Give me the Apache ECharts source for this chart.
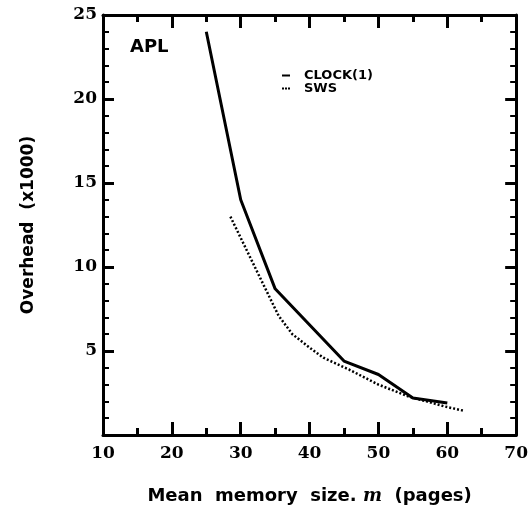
<!DOCTYPE html>
<html>
<head>
<meta charset="utf-8">
<script src="https://cdn.jsdelivr.net/npm/echarts@6/dist/echarts.min.js"></script>
<style>
  html, body { margin: 0; padding: 0; background: #fff; }
  #chart { width: 531px; height: 510px; }
</style>
</head>
<body>
<div id="chart"></div>
<script>
  // values
  var clockM = [25, 30, 35, 45, 50, 55, 60]
  var clockOverhead = [24.0, 14.0, 8.7, 4.4, 3.6, 2.2, 1.9]
  var swsM = [28.5, 33, 35.5, 37.5, 40, 42, 45.7, 50, 54.3, 57, 59.6, 62.3]
  var swsOverhead = [13.0, 9.2, 7.1, 6.0, 5.2, 4.6, 3.9, 3.0, 2.3, 2.0, 1.7, 1.45]
  var xTicks = [10, 20, 30, 40, 50, 60, 70]
  var yTicks = [5, 10, 15, 20, 25]

  var tickFont = 'DejaVu Serif'
  var titleFont = 'DejaVu Sans'

  function pairs(xs, ys) {
    return xs.map(function(x, i) { return [x, ys[i]] })
  }

  // onZero off, otherwise the top/right mirror axes jump to the origin
  var axisLine = { show: true, onZero: false, lineStyle: { color: '#000', width: 3 } }

  function xAxis(pos, showLabels) {
    return {
      type: 'value',
      position: pos,
      min: 10,
      max: 70,
      interval: 10,
      axisLine: axisLine,
      axisTick: { show: true, inside: true, length: 13, lineStyle: { color: '#000', width: 3 } },
      minorTick: { show: true, splitNumber: 2, length: 7, lineStyle: { color: '#000', width: 3 } },
      splitLine: { show: false },
      axisLabel: {
        show: showLabels,
        margin: 10,
        color: '#000',
        fontFamily: tickFont,
        fontWeight: 'bold',
        fontSize: 17,
        formatter: function(v) { return xTicks.indexOf(v) >= 0 ? String(v) : '' }
      }
    }
  }

  function yAxis(pos, showLabels) {
    return {
      type: 'value',
      position: pos,
      min: 0,
      max: 25,
      interval: 5,
      axisLine: axisLine,
      axisTick: { show: true, inside: true, length: 11, lineStyle: { color: '#000', width: 3 } },
      minorTick: { show: true, splitNumber: 5, length: 6, lineStyle: { color: '#000', width: 2 } },
      splitLine: { show: false },
      axisLabel: {
        show: showLabels,
        margin: 6,
        color: '#000',
        fontFamily: tickFont,
        fontWeight: 'bold',
        fontSize: 17,
        formatter: function(v) { return yTicks.indexOf(v) >= 0 ? String(v) : '' }
      }
    }
  }

  var chart = echarts.init(document.getElementById('chart'), null, { renderer: 'canvas' })

  var bottomX = xAxis('bottom', true)
  bottomX.name = 'Mean  memory  size. {i|m}  (pages)'
  bottomX.nameLocation = 'middle'
  bottomX.nameGap = 52
  bottomX.nameTextStyle = {
    color: '#000', fontFamily: titleFont, fontWeight: 'bold', fontSize: 18,
    rich: { i: { fontFamily: 'DejaVu Serif', fontStyle: 'italic', fontWeight: 'bold', fontSize: 18, color: '#000' } }
  }

  var leftY = yAxis('left', true)
  leftY.name = 'Overhead  (x1000)'
  leftY.nameLocation = 'middle'
  leftY.nameGap = 66
  leftY.nameTextStyle = { color: '#000', fontFamily: titleFont, fontWeight: 'bold', fontSize: 17 }

  chart.setOption({
    animation: false,
    backgroundColor: '#fff',
    title: {
      text: 'APL',
      left: 125,
      top: 33,
      textStyle: { color: '#000', fontFamily: titleFont, fontWeight: 'bold', fontSize: 18 }
    },
    legend: {
      orient: 'vertical',
      left: 277,
      top: 64,
      itemWidth: 8,
      itemHeight: 3,
      itemGap: 0,
      textStyle: { color: '#000', fontFamily: titleFont, fontWeight: 'bold', fontSize: 13, padding: [0, 0, 0, 9] },
      data: [
        { name: 'CLOCK(1)', icon: 'path://M0,0h8v2h-8z' },
        { name: 'SWS', icon: 'path://M0,0h2v2h-2z M3,0h2v2h-2z M6,0h2v2h-2z' }
      ]
    },
    grid: { left: 103, right: 9, top: 15, bottom: 73 },
    xAxis: [bottomX, xAxis('top', false)],
    yAxis: [leftY, yAxis('right', false)],
    series: [
      {
        name: 'CLOCK(1)',
        type: 'line',
        symbol: 'none',
        lineStyle: { color: '#000', width: 3, type: 'solid' },
        itemStyle: { color: '#000' },
        data: pairs(clockM, clockOverhead)
      },
      {
        name: 'SWS',
        type: 'line',
        symbol: 'none',
        lineStyle: { color: '#000', width: 2.5, type: [2, 2] },
        itemStyle: { color: '#000' },
        data: pairs(swsM, swsOverhead)
      }
    ]
  })
</script>
</body>
</html>
